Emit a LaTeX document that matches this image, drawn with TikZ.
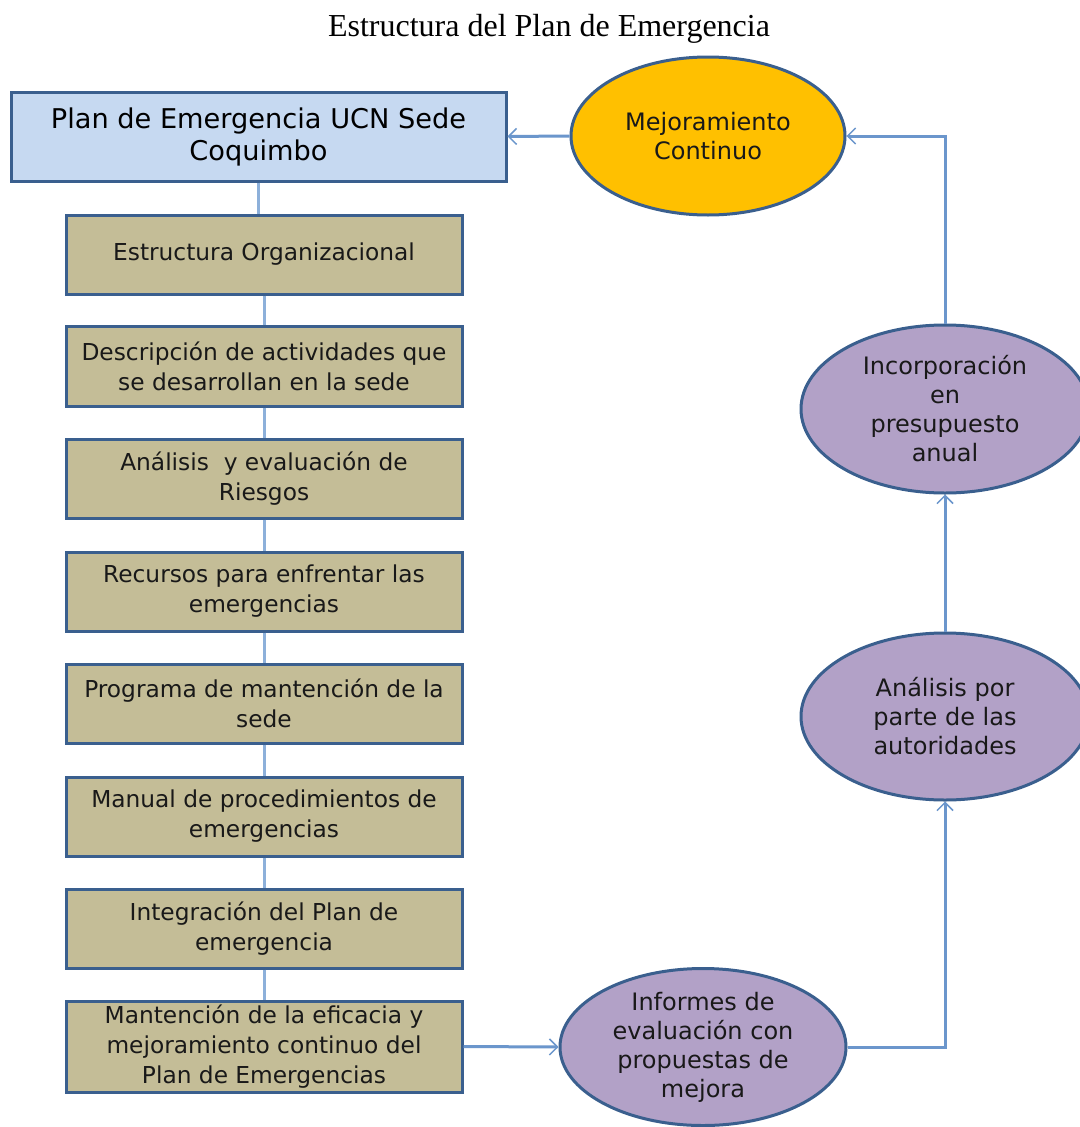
\documentclass[tikz,border=0pt]{standalone}
\usepackage{fontspec}
\setmainfont{Liberation Serif}
\newfontfamily\vf{DejaVu Sans}
\usetikzlibrary{shapes.geometric,arrows.meta}
\definecolor{bordc}{HTML}{3A5F8E}
\definecolor{bluef}{HTML}{C6D9F1}
\definecolor{tanf}{HTML}{C4BD97}
\definecolor{goldf}{HTML}{FFC000}
\definecolor{purf}{HTML}{B2A1C7}
\definecolor{linkc}{HTML}{8DB0DA}
\definecolor{arrc}{HTML}{6B96CC}
\begin{document}
\begin{tikzpicture}[x=1pt,y=-1pt,
  tanbox/.style={draw=bordc,line width=3pt,fill=tanf,rectangle,minimum width=396pt,
     inner sep=0pt,align=center,font=\vf\fontsize{23.3}{30}\selectfont,text=black!90},
  ell/.style={draw=bordc,line width=3pt,ellipse,inner sep=0pt,align=center,
     font=\vf\fontsize{24}{29}\selectfont,text=black!90},
  link/.style={draw=linkc,line width=3pt},
  arr/.style={draw=arrc,line width=3pt,-{Straight Barb[length=8pt,width=16pt,line width=1.5pt]}}]
\useasboundingbox (0,0) rectangle (1079,1127);
\fill[white] (0,0) rectangle (1079,1127);
\node[font=\fontsize{32}{36}\selectfont] (title) at (549,29) {Estructura del Plan de Emergencia};
\node[draw=bordc,line width=3pt,fill=bluef,minimum width=495pt,minimum height=89pt,inner sep=0pt,
  align=center,font=\vf\fontsize{27.2}{32}\selectfont,text=black] (main) at (258.5,136.5)
  {Plan de Emergencia UCN Sede\\Coquimbo};
\node[tanbox,minimum height=79pt] (b1) at (264,254.5) {Estructura Organizacional};
\node[tanbox,minimum height=80pt] (b2) at (264,366) {Descripción de actividades que\\se desarrollan en la sede};
\node[tanbox,minimum height=79pt] (b3) at (264,478.5) {Análisis \ y evaluación de\\Riesgos};
\node[tanbox,minimum height=79pt] (b4) at (264,591.5) {Recursos para enfrentar las\\emergencias};
\node[tanbox,minimum height=79pt] (b5) at (264,703.5) {Programa de mantención de la\\sede};
\node[tanbox,minimum height=79pt] (b6) at (264,816.5) {Manual de procedimientos de\\emergencias};
\node[tanbox,minimum height=79pt] (b7) at (264,928.5) {Integración del Plan de\\emergencia};
\node[tanbox,minimum height=91pt] (b8) at (264,1046.5) {Mantención de la eficacia y\\mejoramiento continuo del\\Plan de Emergencias};
\node[ell,fill=goldf,minimum width=274pt,minimum height=158pt] (mej) at (708,136) {Mejoramiento\\Continuo};
\node[ell,fill=purf,minimum width=288pt,minimum height=168pt] (inc) at (945,409) {Incorporación\\en\\presupuesto\\anual};
\node[ell,fill=purf,minimum width=288pt,minimum height=167pt] (ana) at (945,716.5) {Análisis por\\parte de las\\autoridades};
\node[ell,fill=purf,minimum width=286pt,minimum height=157pt] (inf) at (703,1047) {Informes de\\evaluación con\\propuestas de\\mejora};
\draw[link] (main.south) -- (main.south |- b1.north);
\draw[link] (b1.south) -- (b2.north);
\draw[link] (b2.south) -- (b3.north);
\draw[link] (b3.south) -- (b4.north);
\draw[link] (b4.south) -- (b5.north);
\draw[link] (b5.south) -- (b6.north);
\draw[link] (b6.south) -- (b7.north);
\draw[link] (b7.south) -- (b8.north);
\draw[arr] (b8.east) -- (inf.west);
\draw[arr] (inf.east) -| (ana.south);
\draw[arr] (ana.north) -- (inc.south);
\draw[arr] (inc.north) |- (mej.east);
\draw[arr] (mej.west) -- (main.east);
\end{tikzpicture}
\end{document}
